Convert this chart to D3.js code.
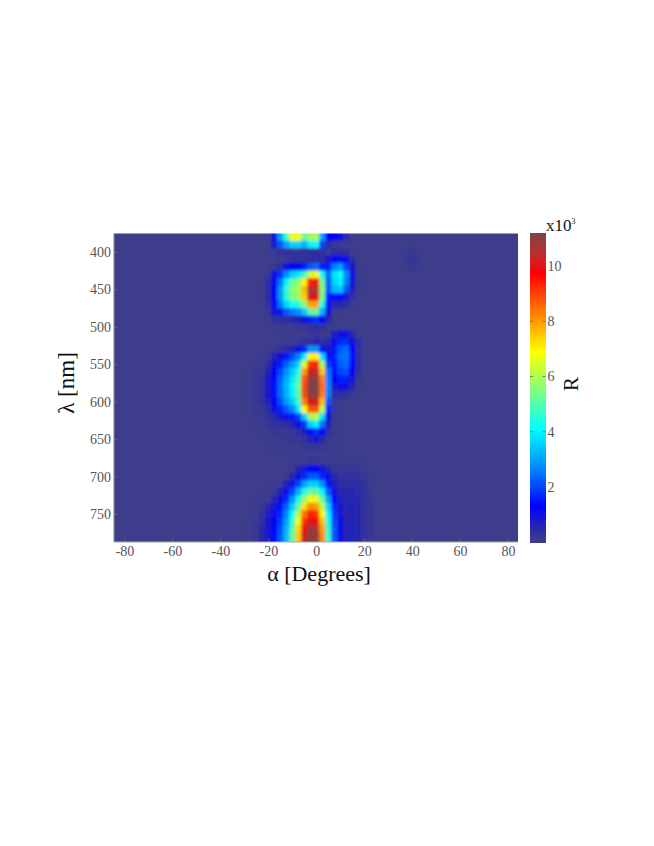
<!DOCTYPE html>
<html><head><meta charset="utf-8">
<script src="https://d3js.org/d3.v7.min.js"></script>
<style>html,body{margin:0;background:#fff}svg{display:block}text{font-family:"Liberation Serif",serif}</style>
</head><body><svg id="c" width="654" height="846"></svg>
<script>
const alphaTicks=[-80,-60,-40,-20,0,20,40,60,80];
const lambdaTicks=[400,450,500,550,600,650,700,750];
const barTicks=[2,4,6,8,10];
const alphaCols=[-27.5,-25,-22.5,-20,-17.5,-15,-12.5,-10,-7.5,-5,-2.5,0,2.5,5,7.5,10,12.5,15,17.5,20,22.5,25,27.5];
const lambdaRows=[380,390,400,410,420,430,440,450,460,470,480,490,500,510,520,530,540,550,560,570,580,590,600,610,620,630,640,650,660,670,680,690,700,710,720,730,740,750,760,770,780];
const reflect=[
[0,0,0,0,1,3,4.8,6.8,6.8,5.2,5.8,6,3,1.2,1.2,1,.4,0,0,0,0,0,0],
[0,0,0,0,.9,2.2,3,3.6,3.6,3.2,4,4.2,2,.4,.2,.1,0,0,0,0,0,0,0],
[0,0,0,0,.1,.3,.3,.3,.3,.3,.4,.4,.3,.2,.4,.4,.3,0,0,0,0,0,0],
[0,0,0,0,0,.1,.2,.3,.3,.3,.4,.4,.4,.8,1.3,1.4,1.1,.4,0,0,0,0,0],
[0,0,0,0,.2,.4,1.1,1.2,1.3,1.5,2.2,2.4,1.6,1.6,2.6,3,2,.8,.1,0,0,0,0],
[0,0,0,.2,1.1,1.8,2.8,3.6,3.9,4.8,6.4,6.8,4.2,2.3,3.8,4.2,2.8,1,.1,0,0,0,0],
[0,0,0,.4,1.2,2.5,4,5.2,5.7,7,9.4,9.6,5.4,2.2,3.6,4,2.6,.9,.1,0,0,0,0],
[0,0,0,.4,1.3,2.9,4.6,5.6,6,7.6,10.6,10.5,5.6,2.2,3.2,3.4,2.2,.7,.1,0,0,0,0],
[0,0,0,.4,1.3,2.9,4.5,5.5,5.9,7.4,10.2,10,5.4,1.6,1.4,1.4,.9,.3,0,0,0,0,0],
[0,0,0,.3,1.2,2.5,3.7,4.3,4.5,5.6,7.9,7.9,4.4,1.4,.5,.5,.4,.1,0,0,0,0,0],
[0,0,0,.2,.9,1.5,2.2,2.6,2.8,3.5,5.1,5.3,3.2,1,.1,0,0,0,0,0,0,0,0],
[0,0,0,.1,.3,.4,.4,.5,.6,1,1.6,1.8,1.3,.5,0,0,0,0,0,0,0,0,0],
[0,0,0,0,0,.1,.1,.1,.2,.2,.3,.4,.3,.1,0,0,0,0,0,0,0,0,0],
[0,0,0,0,0,0,0,0,.1,.1,.2,.2,.1,.1,.7,1,1,.5,0,0,0,0,0],
[0,0,0,0,0,0,.1,.1,.2,.3,.4,.5,.4,.5,1.1,1.7,1.8,1,.4,0,0,0,0],
[0,0,0,.1,.2,.3,.4,.6,1.1,1.7,2.9,2.9,1.5,.8,1.5,2.2,2.4,1.3,.4,0,0,0,0],
[0,0,.1,.2,.6,1,1.5,2,2.7,4,7,7,3.8,1.4,1.6,2.4,2.5,1.4,.4,0,0,0,0],
[0,.1,.1,.4,1,1.6,2.3,2.9,3.7,6.5,9.2,9.4,6,2,1.5,2.2,2.4,1.3,.4,0,0,0,0],
[.1,.2,.2,.6,1.2,2,2.8,3.5,4.4,8,10.2,10.4,7.5,2.5,1.4,2,2.1,1.2,.3,0,0,0,0],
[.1,.2,.3,.8,1.3,2.3,3.1,3.8,5,8.8,10.9,11,8.3,2.6,1.2,1.6,1.6,.9,.2,0,0,0,0],
[.1,.2,.3,.8,1.4,2.4,3.3,4,5.2,9,11.1,11.1,8.5,2.7,.8,1,1,.5,.1,0,0,0,0],
[.1,.2,.3,.8,1.4,2.4,3.2,3.9,5.1,8.9,11,11,8.3,2.6,.4,.4,.3,.1,0,0,0,0,0],
[.1,.2,.3,.6,1.2,2.1,2.9,3.5,4.7,8.3,10.2,10.2,7.6,2.2,.2,.1,0,0,0,0,0,0,0],
[.1,.2,.2,.4,1,1.7,2.2,2.7,3.9,6.9,8.8,8.8,6.2,1.7,.2,0,0,0,0,0,0,0,0],
[0,.1,.2,.3,.5,.9,1.1,1.5,1.9,3.5,5.9,6.1,3.8,1,.1,0,0,0,0,0,0,0,0],
[0,.1,.1,.2,.3,.3,.4,.6,1,1.9,3.6,4,2.5,.7,.1,0,0,0,0,0,0,0,0],
[0,0,.1,.1,.2,.2,.2,.2,.4,.7,1.4,1.8,1.2,.4,.1,0,0,0,0,0,0,0,0],
[0,0,0,.1,.1,.1,.2,.2,.2,.3,.6,.8,.5,.2,.1,0,0,0,0,0,0,0,0],
[0,0,0,0,.1,.1,.1,.1,.1,.2,.25,.25,.2,.1,.1,0,0,0,0,0,0,0,0],
[0,0,0,0,0,0,0,.1,.1,.1,.1,.1,.1,.1,.1,.1,0,0,0,0,0,0,0],
[0,0,0,0,0,0,0,.1,.1,.1,.2,.2,.1,.1,.1,.1,.1,.1,.1,0,0,0,0],
[0,0,0,0,0,0,0,.1,.5,.9,1.3,1.3,.9,.5,.2,.2,.2,.2,.2,.1,0,0,0],
[0,0,0,0,0,0,.1,.5,1,1.7,2.2,2.2,1.7,1,.5,.3,.3,.3,.3,.2,.1,0,0],
[0,0,0,0,.1,.1,.6,1.1,2,3,3.6,3.6,2.8,1.5,.7,.4,.4,.4,.4,.3,.1,0,0],
[0,0,0,0,.1,.6,1.1,2,3.2,4.4,5.2,5.1,4,2.2,1,.5,.5,.5,.4,.3,.1,0,0],
[0,0,.1,.1,.5,1,1.7,2.8,4.2,5.8,6.8,6.6,5.2,3,1.3,.6,.5,.5,.5,.3,.2,0,0],
[0,.1,.2,.5,.9,1.4,2.3,3.5,5.2,7.2,8.2,8,6.2,3.6,1.7,.8,.5,.6,.5,.3,.2,0,0],
[0,.1,.3,.7,1.1,1.7,2.7,4.1,6.2,8.4,9.4,9.2,7,4,1.9,.9,.5,.6,.5,.3,.2,0,0],
[.1,.2,.4,.8,1.2,1.9,3,4.6,6.8,9.2,10.1,9.9,7.6,4.4,2.1,1,.6,.6,.5,.3,.2,0,0],
[.1,.2,.5,.9,1.3,2.1,3.2,5,7.3,9.9,10.8,10.5,8,4.6,2.2,1.1,.6,.6,.5,.3,.2,0,0],
[.1,.2,.5,.9,1.3,2.2,3.3,5.2,7.5,10.2,11.1,10.8,8.2,4.7,2.2,1.1,.6,.6,.5,.3,.2,0,0]
];
const faintAlpha=[37.5,40,42.5];
const faintLambda=[400,410,420];
const faintValues=[[.05,.15,.05],[.15,.25,.15],[.05,.15,.05]];
const cmapStops=[0,.25,1.3,2.6,4.1,5.5,6.9,8.3,9.75,10.5,11.2];
const cmapColors=["#3d3d8c","#353596","#0000ff","#0080ff","#00ffff","#80ff80","#ffff00","#ff8000","#ff0000","#b83030","#784545"];

const L=114,R=518,T=233.5,B=542;
const x=d3.scaleLinear().domain([-80,80]).range([124.5,508]);
const y=d3.scaleLinear().domain([400,750]).range([252,514]);
const color=d3.scaleLinear().domain(cmapStops).range(cmapColors).clamp(true);
const svg=d3.select("#c");
const defs=svg.append("defs");
defs.append("clipPath").attr("id","plot").append("rect").attr("x",L).attr("y",T).attr("width",R-L).attr("height",B-T);
defs.append("filter").attr("id","soft").attr("filterUnits","userSpaceOnUse")
  .attr("x",L-30).attr("y",T-30).attr("width",R-L+60).attr("height",B-T+60)
  .append("feGaussianBlur").attr("stdDeviation",1.7);

const clip=svg.append("g").attr("clip-path","url(#plot)");
const heat=clip.append("g").attr("filter","url(#soft)");
heat.append("rect").attr("x",L-30).attr("y",T-30).attr("width",R-L+60).attr("height",B-T+60).attr("fill",color(0));
const da=2.5,dl=10;
const cells=[];
reflect.forEach((row,i)=>row.forEach((v,j)=>{ if(v>0) cells.push({a:alphaCols[j],l:lambdaRows[i],v,first:i===0,last:i===reflect.length-1}); }));
faintValues.forEach((row,i)=>row.forEach((v,j)=>cells.push({a:faintAlpha[j],l:faintLambda[i],v})));
heat.selectAll("rect.c").data(cells).join("rect").attr("class","c")
  .attr("x",d=>x(d.a-da/2)).attr("width",x(da)-x(0)+.3)
  .attr("y",d=>y(d.l-dl/2-(d.first?dl:0)))
  .attr("height",d=>y(dl*(1+(d.first||d.last?1:0)))-y(0)+.3)
  .attr("fill",d=>color(d.v));

const tickCol="#666",txt="#555";
const ax=svg.append("g").attr("transform",`translate(0,${B})`).call(d3.axisBottom(x).tickValues(alphaTicks).tickSize(-4).tickPadding(4).tickFormat(d=>d));
const ay=svg.append("g").attr("transform",`translate(${L},0)`).call(d3.axisLeft(y).tickValues(lambdaTicks).tickSize(-4).tickPadding(3));
[ax,ay].forEach(g=>{
  g.select(".domain").remove();
  g.selectAll("line").attr("stroke",tickCol).attr("stroke-width",.8);
  g.selectAll("text").attr("fill",txt).style("font-size","14px").style("font-family","Liberation Serif");
});
svg.append("line").attr("x1",L).attr("x2",L).attr("y1",T).attr("y2",B).attr("stroke","#888");
svg.append("line").attr("x1",L).attr("x2",R).attr("y1",B).attr("y2",B).attr("stroke","#aaa");

const bar=d3.scaleLinear().domain([0,11.2]).range([542,233]);
const barX=530,barW=15.5;
svg.append("g").attr("shape-rendering","crispEdges").selectAll("rect").data(d3.range(0,11.2,.05)).join("rect")
  .attr("x",barX).attr("width",barW).attr("y",d=>bar(d+.05)).attr("height",d=>bar(d)-bar(d+.05)+1).attr("fill",d=>color(d));
const ab=svg.append("g").attr("transform",`translate(${barX+barW},0)`).call(d3.axisRight(bar).tickValues(barTicks).tickSize(0).tickPadding(2));
ab.select(".domain").remove();
ab.selectAll("text").attr("fill",txt).style("font-size","14px").style("font-family","Liberation Serif");
svg.append("g").selectAll("line").data(barTicks).join("line").attr("x1",barX+barW-3).attr("x2",barX+barW).attr("y1",d=>bar(d)).attr("y2",d=>bar(d)).attr("stroke",tickCol).attr("stroke-width",.8);
svg.append("g").selectAll("line").data(barTicks).join("line").attr("x1",barX).attr("x2",barX+3).attr("y1",d=>bar(d)).attr("y2",d=>bar(d)).attr("stroke",tickCol).attr("stroke-width",.8);

svg.append("text").attr("x",319).attr("y",581).attr("text-anchor","middle").attr("fill","#111").style("font-size","22px").text("α [Degrees]");
svg.append("text").attr("transform","translate(74,383) rotate(-90)").attr("text-anchor","middle").attr("fill","#111").style("font-size","23px").text("λ [nm]");
svg.append("text").attr("transform","translate(578,384) rotate(-90)").attr("text-anchor","middle").attr("fill","#111").style("font-size","21px").text("R");
const xt=svg.append("text").attr("x",546).attr("y",231).attr("fill","#111").style("font-size","17px").text("x10");
xt.append("tspan").attr("dy",-7).style("font-size","8px").text("3");
</script></body></html>
